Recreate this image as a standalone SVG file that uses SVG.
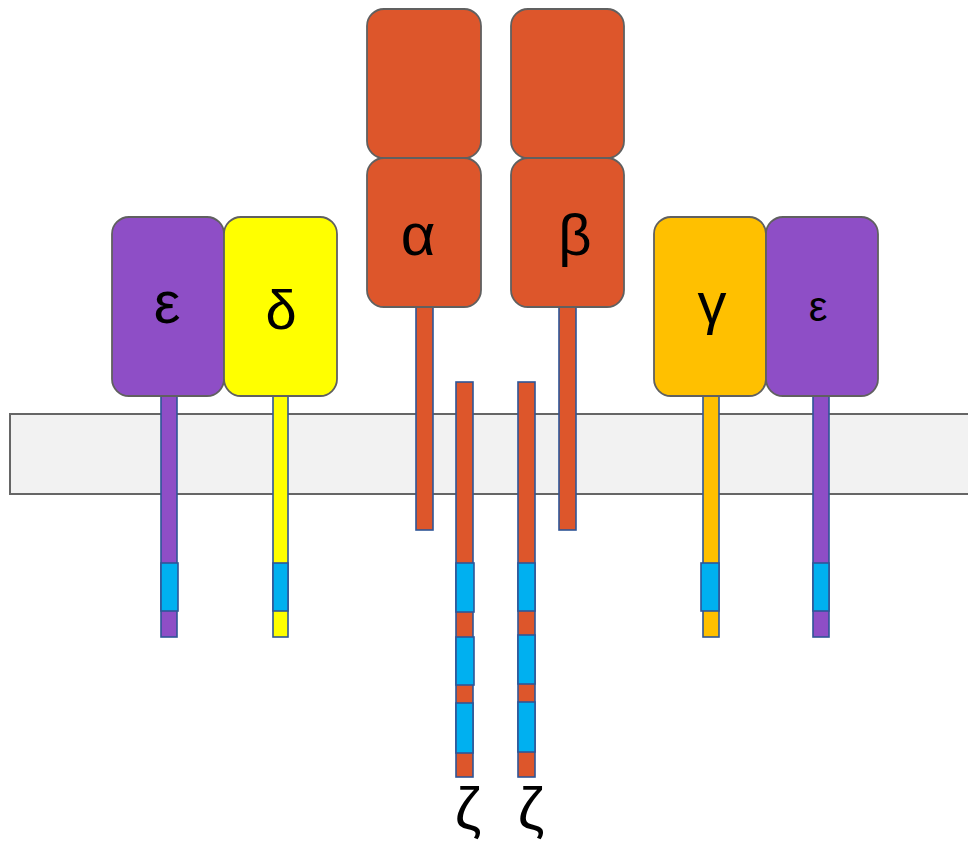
<svg xmlns="http://www.w3.org/2000/svg" width="968" height="843" viewBox="0 0 968 843">
<style>
.box{stroke:#606060;stroke-width:1.8}
.stalk{stroke:#2F5597;stroke-width:1.6}
.purple{fill:#8E4EC6}
.yellow{fill:#FFFF00}
.gold{fill:#FFC000}
.orange{fill:#DD562B}
.blue{fill:#00B0F0}
.lbl{font-family:"Liberation Sans",Arial,sans-serif;fill:#000;text-anchor:middle}
</style>
<rect width="968" height="843" fill="#FFFFFF"/>
<g id="membrane">
<rect x="10" y="414" width="970" height="80" fill="#F2F2F2" stroke="#666666" stroke-width="2"/>
</g>
<g id="connectors"></g>
<g id="epsilon-left">
<rect class="stalk purple" x="161" y="396" width="16" height="241"/>
<rect class="stalk blue" x="161" y="563" width="17" height="48"/>
<rect class="box purple" x="112" y="217" width="112" height="179" rx="17"/>
<text class="lbl" x="167" y="323" font-size="60">ε</text>
</g>
<g id="delta">
<rect class="stalk yellow" x="273" y="396" width="15" height="241"/>
<rect class="stalk blue" x="273" y="563" width="15" height="48"/>
<rect class="box yellow" x="224" y="217" width="113" height="179" rx="17"/>
<text class="lbl" x="281" y="329" font-size="56">δ</text>
</g>
<g id="alpha">
<rect class="stalk orange" x="416" y="307" width="17" height="223"/>
<rect class="box orange" x="367" y="9" width="114" height="149" rx="17"/>
<rect class="box orange" x="367" y="158" width="114" height="149" rx="17"/>
<text class="lbl" x="418" y="255" font-size="60">α</text>
</g>
<g id="beta">
<rect class="stalk orange" x="559" y="307" width="17" height="223"/>
<rect class="box orange" x="511" y="9" width="113" height="149" rx="17"/>
<rect class="box orange" x="511" y="158" width="113" height="149" rx="17"/>
<text class="lbl" x="575" y="255" font-size="58">β</text>
</g>
<g id="zeta-left">
<rect class="stalk orange" x="456" y="382" width="17" height="395"/>
<rect class="stalk blue" x="456" y="563" width="18" height="49"/>
<rect class="stalk blue" x="456" y="637" width="18" height="48"/>
<rect class="stalk blue" x="456" y="703" width="17" height="50"/>
<text class="lbl" x="468" y="829" font-size="60">ζ</text>
</g>
<g id="zeta-right">
<rect class="stalk orange" x="518" y="382" width="17" height="395"/>
<rect class="stalk blue" x="518" y="563" width="17" height="48"/>
<rect class="stalk blue" x="518" y="635" width="17" height="49"/>
<rect class="stalk blue" x="518" y="702" width="17" height="50"/>
<text class="lbl" x="531" y="829" font-size="60">ζ</text>
</g>
<g id="gamma">
<rect class="stalk gold" x="703" y="396" width="16" height="241"/>
<rect class="stalk blue" x="701" y="563" width="18" height="48"/>
<rect class="box gold" x="654" y="217" width="112" height="179" rx="17"/>
<text class="lbl" x="712" y="323" font-size="58">γ</text>
</g>
<g id="epsilon-right">
<rect class="stalk purple" x="813" y="396" width="16" height="241"/>
<rect class="stalk blue" x="813" y="563" width="16" height="48"/>
<rect class="box purple" x="766" y="217" width="112" height="179" rx="17"/>
<text class="lbl" x="818" y="321" font-size="42">ε</text>
</g>
</svg>
